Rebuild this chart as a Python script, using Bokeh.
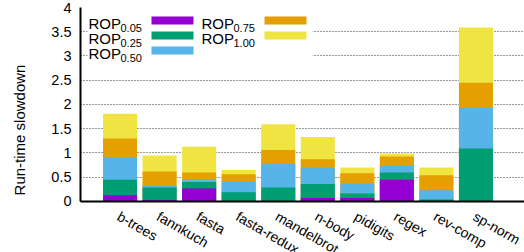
import math
from bokeh.plotting import figure
from bokeh.models import Range1d, FixedTicker, Label, LabelSet, BoxAnnotation, ColumnDataSource, Grid
from bokeh.core.properties import value
from bokeh.embed import file_html
from bokeh.resources import INLINE

categories = ["b-trees", "fannkuch", "fasta", "fasta-redux", "mandelbrot",
              "n-body", "pidigits", "regex", "rev-comp", "sp-norm"]
rop_005 = [0.13, 0.03, 0.27, 0.00, 0.00, 0.07, 0.07, 0.45, 0.00, 0.00]
rop_025 = [0.45, 0.29, 0.40, 0.19, 0.29, 0.36, 0.165, 0.60, 0.04, 1.09]
rop_050 = [0.91, 0.33, 0.45, 0.41, 0.78, 0.70, 0.37, 0.73, 0.23, 1.93]
rop_075 = [1.30, 0.62, 0.60, 0.56, 1.06, 0.87, 0.58, 0.93, 0.54, 2.45]
rop_100 = [1.81, 0.95, 1.13, 0.65, 1.59, 1.33, 0.70, 0.99, 0.70, 3.59]

series_subs = ["0.05", "0.25", "0.50", "0.75", "1.00"]
series_vals = [rop_005, rop_025, rop_050, rop_075, rop_100]
colors = ["#9400D3", "#009E73", "#56B4E9", "#E69F00", "#F0E442"]

y_ticks = [0, 0.5, 1, 1.5, 2, 2.5, 3, 3.5, 4]
y_tick_labels = ["0", "0.5", "1", "1.5", "2", "2.5", "3", "3.5", "4"]

FONT = "Liberation Sans"

# frame runs to the bottom/right of the canvas so the rotated category labels
# (drawn inside the frame under the y=0 baseline) are not clipped away;
# the visible plot area is x in [-1, 10], y in [0, 4]
X_MIN, X_END = -1, 10
Y_MIN = -1.052
X_MAX = 10.2276
p = figure(width=524, height=252, x_range=Range1d(X_MIN, X_MAX), y_range=Range1d(Y_MIN, 4),
           output_backend="svg", toolbar_location=None,
           min_border_left=80, min_border_right=0, min_border_top=7, min_border_bottom=0)
p.outline_line_color = None
p.background_fill_color = "white"
p.xaxis.visible = False

# grid
p.xgrid.visible = False
p.ygrid.ticker = FixedTicker(ticks=y_ticks)
p.ygrid.bounds = (X_MIN, X_END)
p.ygrid.grid_line_color = "#333333"
p.ygrid.grid_line_dash = "1 2"
p.ygrid.grid_line_width = 1

# y axis
p.yaxis.ticker = FixedTicker(ticks=y_ticks)
p.yaxis.bounds = (0, 4)
p.yaxis.major_label_overrides = {t: l for t, l in zip(y_ticks, y_tick_labels)}
p.yaxis.major_label_text_font = FONT
p.yaxis.major_label_text_font_size = "14.5px"
p.yaxis.major_label_text_color = "black"
p.yaxis.major_label_standoff = 9
p.yaxis.major_tick_in = 0
p.yaxis.major_tick_out = 0
p.yaxis.minor_tick_line_color = None
p.yaxis.axis_line_width = 2
p.yaxis.axis_line_color = "black"
p.yaxis.axis_label = "Run-time slowdown"
p.yaxis.axis_label_text_font = FONT
p.yaxis.axis_label_text_font_size = "15px"
p.yaxis.axis_label_text_font_style = "normal"
p.yaxis.axis_label_text_color = "black"
p.yaxis.axis_label_standoff = 20

xs = list(range(len(categories)))

# overlapping bars, largest first
for vals, col in reversed(list(zip(series_vals, colors))):
    src = ColumnDataSource(dict(x=xs, top=vals))
    p.vbar(x="x", top="top", bottom=0, width=0.86, source=src,
           fill_color=col, line_color=None)

# x baseline (solid line at y=0 over the plot width)
base_grid = Grid(dimension=1, ticker=FixedTicker(ticks=[0]), bounds=(X_MIN, X_END),
                 grid_line_color="black", grid_line_width=2, level="annotation")
p.add_layout(base_grid)

# rotated category labels
lab_src = ColumnDataSource(dict(x=xs, y=[0] * len(xs), text=categories))
p.add_layout(LabelSet(x="x", y="y", text="text", source=lab_src,
                      angle=-math.pi / 6, x_offset=-4, y_offset=-18,
                      text_align="left", text_baseline="alphabetic",
                      text_font=value(FONT), text_font_size=value("14px"),
                      text_color="black"))

# legend (gnuplot style, manual because of subscripts)
p.add_layout(BoxAnnotation(left=87, right=312, top=8, bottom=62,
                           left_units="canvas", right_units="canvas",
                           top_units="canvas", bottom_units="canvas",
                           fill_color="white", fill_alpha=1.0, line_alpha=0))
text_x = [88, 201]
sw_x = [151, 264]
for i, (sub, col) in enumerate(zip(series_subs, colors)):
    c, r = divmod(i, 3)
    base = 23 + 15 * r
    p.add_layout(Label(x=text_x[c], y=base, x_units="canvas", y_units="canvas",
                       text="ROP", text_font=FONT, text_font_size="15px",
                       text_align="left", text_baseline="alphabetic", text_color="black"))
    p.add_layout(Label(x=text_x[c] + 32, y=base + 4.5, x_units="canvas", y_units="canvas",
                       text=sub, text_font=FONT, text_font_size="11px",
                       text_align="left", text_baseline="alphabetic", text_color="black"))
    p.add_layout(BoxAnnotation(left=sw_x[c], right=sw_x[c] + 42, top=base - 7, bottom=base + 1,
                               left_units="canvas", right_units="canvas",
                               top_units="canvas", bottom_units="canvas",
                               fill_color=col, fill_alpha=1.0, line_alpha=0))

open("out.html", "w").write(file_html(p, INLINE))
